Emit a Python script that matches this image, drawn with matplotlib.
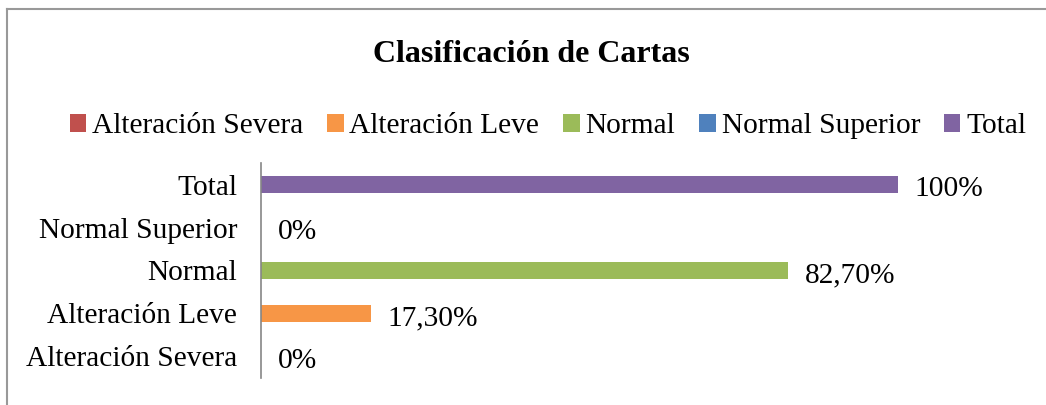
import matplotlib
matplotlib.use('Agg')
import matplotlib.pyplot as plt
from matplotlib.patches import Patch
from matplotlib.lines import Line2D

# datos del grafico
categorias = ['Alteración Severa', 'Alteración Leve', 'Normal', 'Normal Superior', 'Total']
valores = [0, 17.3, 82.7, 0, 100]
colores = ['#C0504D', '#F79646', '#9BBB59', '#4F81BD', '#8064A2']
titulo = 'Clasificación de Cartas'


def etiqueta(v):
    if v % 1:
        return ('%.2f' % v).replace('.', ',') + '%'
    return '%d%%' % v


plt.rcParams['font.family'] = ['Liberation Serif', 'DejaVu Serif']
fs = 21.2

fig = plt.figure(figsize=(10.46, 4.05), dpi=100)
ax = fig.add_axes([0.2495, 0.0667, 0.609, 0.5308])

y = range(len(categorias))
ax.barh(y, valores, height=0.4, color=colores)
ax.set_xlim(0, 100)
ax.set_ylim(-0.5, len(categorias) - 0.5)
ax.set_yticks(list(y))
ax.set_yticklabels(categorias, fontsize=fs)
ax.tick_params(axis='y', length=0, pad=17)
ax.xaxis.set_visible(False)
for s in ['top', 'right', 'bottom']:
    ax.spines[s].set_visible(False)
ax.spines['left'].set_color('#868686')
ax.spines['left'].set_linewidth(1.2)

for i, v in enumerate(valores):
    ax.annotate(etiqueta(v), (v, i), xytext=(12, -3.5), textcoords='offset points',
                va='center', ha='left', fontsize=fs)

fig.text(0.508, 0.866, titulo, ha='center', va='center', fontsize=23, fontweight='bold')

handles = [Patch(facecolor=c, edgecolor='none') for c in colores]
fig.legend(handles, categorias, loc='center', bbox_to_anchor=(0.524, 0.688), ncol=5,
           frameon=False, fontsize=fs, handlelength=0.55, handleheight=0.55,
           handletextpad=0.2, columnspacing=0.82, borderaxespad=0, borderpad=0)

# borde del grafico
fig.add_artist(Line2D([0.0067, 0.0067], [0, 0.978], color='#999999', lw=1.5))
fig.add_artist(Line2D([0.0067, 1], [0.978, 0.978], color='#999999', lw=1.5))

fig.savefig('out.png', dpi=100)
